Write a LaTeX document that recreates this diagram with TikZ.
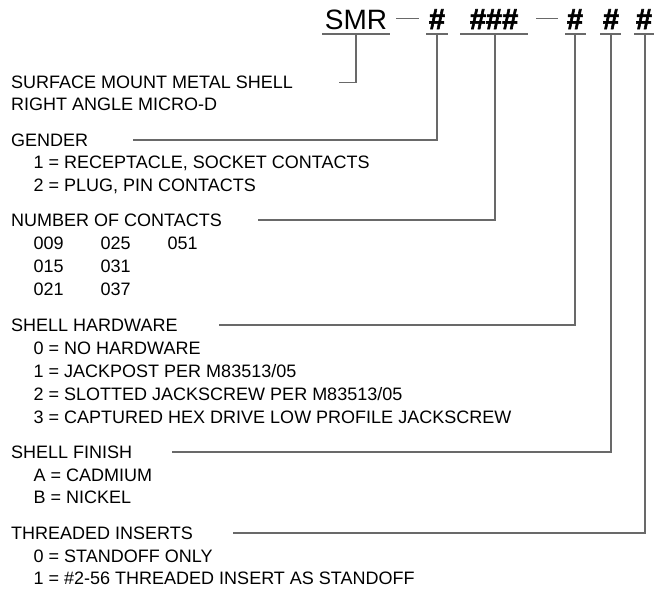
\documentclass[tikz,border=0pt]{standalone}
\usepackage{fontspec}
\setmainfont{Liberation Sans}
\newfontfamily\hashfont{Liberation Sans}[UprightFont=* Bold, UprightFeatures={FakeBold=2}]
\definecolor{linegray}{RGB}{105,105,105}
\begin{document}
\begin{tikzpicture}[x=1pt,y=-1pt,
  txt/.style={anchor=base west,inner sep=0pt,font=\fontsize{18}{20}\selectfont,text=black},
  big/.style={anchor=base,inner sep=0pt,font=\fontsize{28}{30}\selectfont,text=black},
  bighash/.style={anchor=base,inner sep=0pt,font=\fontsize{29}{31}\hashfont,text=black},
  lead/.style={draw=linegray,line width=1.4pt},
  uline/.style={draw=linegray,line width=1.4pt}]
\useasboundingbox (0,0) rectangle (656,589);
% header
\node[big] (smr) at (356,29) {SMR};
\node[bighash] (h1) at (437,29) {\#};
\node[bighash] (h2) at (494,29) {\#\#\#};
\node[bighash] (h3) at (575,29) {\#};
\node[bighash] (h4) at (611,29) {\#};
\node[bighash] (h5) at (644,29) {\#};
\draw[uline] (322,34) -- (390,34);
\draw[uline] (426,34) -- (448,34);
\draw[uline] (460,34) -- (528,34);
\draw[uline] (565,34) -- (586,34);
\draw[uline] (600,34) -- (621,34);
\draw[uline] (634,34) -- (654,34);
\draw[uline,line width=1pt] (396,18) -- (419,18);
\draw[uline,line width=1pt] (536,18) -- (558,18);
\coordinate (u0) at (356,34);
\coordinate (u1) at (437,34);
\coordinate (u2) at (495,34);
\coordinate (u3) at (575,34);
\coordinate (u4) at (611,34);
\coordinate (u5) at (645,34);
% text
\node[txt] (t0) at (11,88.5) {SURFACE MOUNT METAL SHELL};
\node[txt] (t0b) at (11,110.5) {RIGHT ANGLE MICRO-D};
\node[txt] (t1) at (11,146) {GENDER};
\node[txt] (t1a) at (33.5,168.5) {1 = RECEPTACLE, SOCKET CONTACTS};
\node[txt] (t1b) at (33.5,191) {2 = PLUG, PIN CONTACTS};
\node[txt] (t2) at (11,226) {NUMBER OF CONTACTS};
\node[txt] (n1) at (33.5,249) {009};
\node[txt] (n2) at (100.5,249) {025};
\node[txt] (n3) at (167.5,249) {051};
\node[txt] (n4) at (33.5,272) {015};
\node[txt] (n5) at (100.5,272) {031};
\node[txt] (n6) at (33.5,295) {021};
\node[txt] (n7) at (100.5,295) {037};
\node[txt] (t3) at (11,331) {SHELL HARDWARE};
\node[txt] (t3a) at (33.5,354) {0 = NO HARDWARE};
\node[txt] (t3b) at (33.5,377) {1 = JACKPOST PER M83513/05};
\node[txt] (t3c) at (33.5,400) {2 = SLOTTED JACKSCREW PER M83513/05};
\node[txt] (t3d) at (33.5,423) {3 = CAPTURED HEX DRIVE LOW PROFILE JACKSCREW};
\node[txt] (t4) at (11,458) {SHELL FINISH};
\node[txt] (t4a) at (33.5,481) {A = CADMIUM};
\node[txt] (t4b) at (33.5,503.5) {B = NICKEL};
\node[txt] (t5) at (11,539) {THREADED INSERTS};
\node[txt] (t5a) at (33.5,562) {0 = STANDOFF ONLY};
\node[txt] (t5b) at (33.5,584.5) {1 = \#2-56 THREADED INSERT AS STANDOFF};
% leaders
\draw[lead] (u0) |- ([xshift=46pt]t0.east);
\draw[lead] (u1) |- ([xshift=45pt]t1.east);
\draw[lead] (u2) |- ([xshift=36pt]t2.east);
\draw[lead] (u3) |- ([xshift=41pt]t3.east);
\draw[lead] (u4) |- ([xshift=40pt]t4.east);
\draw[lead] (u5) |- ([xshift=40pt]t5.east);
\end{tikzpicture}
\end{document}
